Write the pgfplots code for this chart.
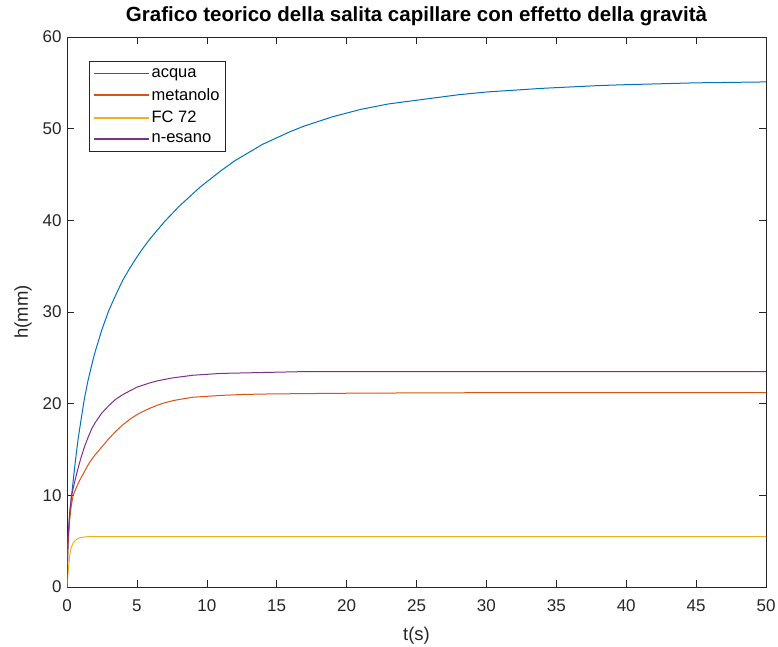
\documentclass[border=0pt]{standalone}
\usepackage{pgfplots}
\pgfplotsset{compat=1.18}
\usepackage{fontspec}
\setmainfont{Liberation Sans}
\definecolor{mblue}{rgb}{0,0.447,0.741}
\definecolor{morange}{rgb}{0.85,0.325,0.098}
\definecolor{myellow}{rgb}{0.929,0.694,0.125}
\definecolor{mpurple}{rgb}{0.494,0.184,0.556}
\definecolor{axgray}{rgb}{0.15,0.15,0.15}
\begin{document}
\begin{tikzpicture}
\path[use as bounding box] (0pt,0pt) rectangle (778pt,646pt);
\begin{axis}[
  at={(67pt,59pt)}, anchor=south west,
  scale only axis, width=699pt, height=550pt,
  xmin=0, xmax=50, ymin=0, ymax=60,
  xtick={0,5,...,50}, ytick={0,10,...,60},
  tick align=inside, major tick length=7pt,
  axis line style={axgray, line width=0.6pt},
  every tick/.style={axgray, line width=0.6pt},
  /pgf/number format/assume math mode=true,
  tick label style={font=\fontsize{17}{20}\selectfont, text=axgray},
  xticklabel style={yshift=-9pt},
  yticklabel style={xshift=-2pt},
  xlabel={t(s)}, ylabel={h(mm)},
  label style={font=\fontsize{18.5}{22}\selectfont, text=axgray},
  xlabel style={yshift=-9pt},
  ylabel style={yshift=4pt},
  title={\textbf{Grafico teorico della salita capillare con effetto della gravità}},
  title style={font=\fontsize{20.5}{24}\selectfont, yshift=2pt},
  legend cell align=left,
  legend style={at={(0.0315,0.956)}, anchor=north west, draw=axgray, line width=0.6pt,
    font=\fontsize{16.5}{20}\selectfont, row sep=5.5pt, inner xsep=4pt, inner ysep=5pt},
  legend image code/.code={\draw[#1, line width=1.3pt] (0pt,0pt) -- (55pt,0pt);},
  every axis plot/.append style={line width=1pt},
]
\addplot[mblue] coordinates {
(0,0) (0.05,4) (0.1,5.8) (0.2,8.0) (0.3,9.6) (0.4,11.0) (0.56,13.2) (0.7,15.0)
(0.8,16.2) (1.0,18.2) (1.25,20.6) (1.5,22.5) (1.75,24.1) (2.0,25.6) (2.5,28.1)
(3,30.2) (3.5,31.9) (4,33.5) (4.5,34.8) (5,36.0) (5.5,37.1) (6,38.1) (6.5,39.0)
(7,39.9) (7.5,40.7) (8,41.5) (8.5,42.2) (9,42.9) (9.5,43.6) (10,44.2) (11,45.4)
(12,46.5) (13,47.4) (14,48.3) (15,49.0) (16,49.7) (17,50.3) (18,50.8) (19,51.3)
(20,51.7) (21,52.1) (22,52.4) (23,52.7) (24,52.9) (25,53.1) (26,53.3) (28,53.7)
(30,54.0) (32,54.2) (34,54.4) (36,54.55) (38,54.7) (40,54.8) (42.5,54.9)
(45,55.0) (47.5,55.05) (50,55.1)};
\addlegendentry{acqua}
\addplot[morange] coordinates {
(0,0) (0.05,3.5) (0.1,5.2) (0.2,7.5) (0.3,8.8) (0.44,10.0) (0.6,10.6) (0.8,11.3)
(1.0,11.9) (1.25,12.6) (1.5,13.3) (1.75,13.9) (2,14.4) (2.5,15.3) (3,16.2)
(3.5,17.0) (4,17.7) (4.5,18.3) (5,18.8) (5.5,19.2) (6,19.55) (6.5,19.85) (7,20.1)
(7.5,20.3) (8,20.45) (9,20.7) (10,20.8) (11,20.9) (12.5,21.0) (14,21.05) (17,21.1)
(21,21.15) (30,21.2) (50,21.2)};
\addlegendentry{metanolo}
\addplot[myellow] coordinates {
(0,0) (0.1,2) (0.2,3.5) (0.3,4.3) (0.44,4.8) (0.6,5.1) (0.8,5.3) (1.0,5.4)
(1.5,5.5) (2,5.5) (50,5.5)};
\addlegendentry{FC 72}
\addplot[mpurple] coordinates {
(0,0) (0.05,4) (0.1,6) (0.2,8.3) (0.32,9.9) (0.45,10.8) (0.6,11.8) (0.8,13.0)
(1.0,14.1) (1.25,15.3) (1.5,16.3) (1.75,17.2) (2,17.9) (2.5,19.0) (3,19.8)
(3.5,20.5) (4,21.0) (4.5,21.4) (5,21.8) (5.5,22.05) (6,22.3) (6.5,22.5) (7,22.65)
(7.5,22.8) (8,22.9) (9,23.1) (10,23.2) (11,23.3) (12.5,23.35) (14,23.4) (17,23.5)
(50,23.5)};
\addlegendentry{n-esano}
\end{axis}
\end{tikzpicture}
\end{document}
